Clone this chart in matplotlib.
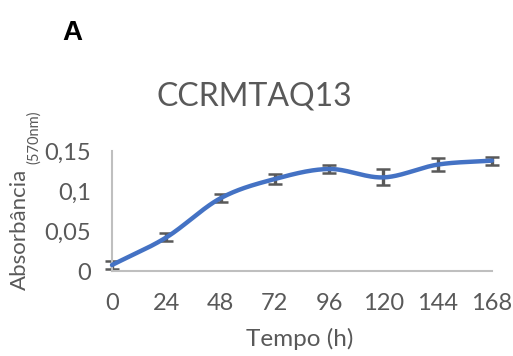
import numpy as np
import matplotlib
matplotlib.use("Agg")
import matplotlib.pyplot as plt

hours = [0, 24, 48, 72, 96, 120, 144, 168]
absorbance = [0.0075, 0.042, 0.091, 0.115, 0.1275, 0.117, 0.133, 0.138]
errors = [0.005, 0.005, 0.005, 0.006, 0.005, 0.010, 0.008, 0.005]
yticks = [0, 0.05, 0.1, 0.15]
ytick_labels = ["0", "0,05", "0,1", "0,15"]

def catmull_rom(x, y, n=40):
    x = np.asarray(x, float); y = np.asarray(y, float)
    px = np.concatenate([[2*x[0]-x[1]], x, [2*x[-1]-x[-2]]])
    py = np.concatenate([[2*y[0]-y[1]], y, [2*y[-1]-y[-2]]])
    xs, ys = [], []
    t = np.linspace(0, 1, n)
    for i in range(1, len(px)-2):
        for p, out in ((px, xs), (py, ys)):
            p0, p1, p2, p3 = p[i-1], p[i], p[i+1], p[i+2]
            out.append(0.5*((2*p1) + (-p0+p2)*t + (2*p0-5*p1+4*p2-p3)*t**2 + (-p0+3*p1-3*p2+p3)*t**3))
    return np.concatenate(xs), np.concatenate(ys)

fig = plt.figure(figsize=(5.13, 3.56), dpi=100)
ax = fig.add_axes([112/513, 85/356, 380/513, 120/356])

grey = "#595959"
ax.errorbar(hours, absorbance, yerr=errors, fmt="none", ecolor=grey,
            elinewidth=2.4, capsize=5, capthick=1.8, zorder=2, clip_on=False)
sx, sy = catmull_rom(hours, absorbance)
ax.plot(sx, sy, color="#4472C4", linewidth=3.2, solid_capstyle="round", zorder=3, clip_on=False)

ax.set_xlim(0, 168)
ax.set_ylim(0, 0.15)
ax.set_xticks(hours)
ax.set_xticklabels([str(h) for h in hours])
ax.set_yticks(yticks)
ax.set_yticklabels(ytick_labels)
for s in ["top", "right"]:
    ax.spines[s].set_visible(False)
for s in ["left", "bottom"]:
    ax.spines[s].set_color("#bfbfbf")
    ax.spines[s].set_linewidth(1.5)
ax.tick_params(length=0, labelsize=17, colors=grey, labelfontfamily="Lato")
ax.tick_params(axis="x", pad=16)
ax.tick_params(axis="y", pad=15)

fig.text(300/513, 1-339/356, "Tempo (h)", ha="center", va="center", fontsize=17.5, color=grey, family="Lato")
fig.text(20/513, 1-229/356, "Absorbância", ha="center", va="center", rotation=90, fontsize=16, color=grey, family="Lato")
fig.text(34/513, 1-137/356, "(570nm)", ha="center", va="center", rotation=90, fontsize=10.5, color=grey, family="Lato")
fig.text(254/513, 1-97/356, "CCRMTAQ13", ha="center", va="center", fontsize=23, color=grey, family="Lato")
fig.text(72/513, 1-33/356, "A", ha="center", va="center", fontsize=20, fontweight="bold", color="black", family="Liberation Sans")

fig.savefig("out.png", dpi=100)
